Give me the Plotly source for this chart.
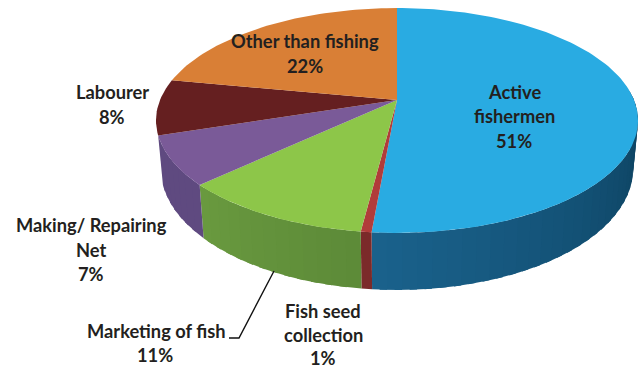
import math
import plotly.graph_objects as go

categories = ["Active fishermen", "Fish seed collection", "Marketing of fish",
              "Making/ Repairing Net", "Labourer", "Other than fishing"]
values = [51.4, 0.6, 11, 7, 8, 22]
top_colors = ["#29abe2", "#b13c3a", "#8dc649", "#7a5a98", "#651f20", "#d97f36"]
# wall colours at the start and end of each slice's visible arc; the last two slices have no visible wall
side_start = ["#0b3d5a", "#7b2a2a", "#5c8a38", "#5f4a80", None, None]
side_end = ["#1a628c", "#7b2a2a", "#6a9a3f", "#5f4a80", None, None]

# Projection of the tilted disc (pixels of the 644x368 canvas)
CX, CY, RX, RY, K, DEPTH, SHRINK = 397, 100, 237, 108.7, 0.182, 46.7, 0.98


def top_pt(deg):
    t = math.radians(deg)
    w = 1 + K * math.cos(t)
    return CX + RX * math.sin(t) / w, CY - RY * math.cos(t) / w


def bottom_pt(deg):
    t = math.radians(deg)
    w = 1 + K * math.cos(t)
    x, y = top_pt(deg)
    return CX + (x - CX) * SHRINK, y + DEPTH / w


def mix(a, b, f):
    ca = [int(a[i:i + 2], 16) for i in (1, 3, 5)]
    cb = [int(b[i:i + 2], 16) for i in (1, 3, 5)]
    return "rgb(%d,%d,%d)" % tuple(round(p + (q - p) * f) for p, q in zip(ca, cb))


def poly(pts, color):
    return go.Scatter(x=[p[0] for p in pts], y=[p[1] for p in pts], mode="lines",
                      fill="toself", fillcolor=color, line=dict(color=color, width=0),
                      hoverinfo="skip", showlegend=False)


fig = go.Figure()
total = sum(values)
edges = [0]
for v in values:
    edges.append(edges[-1] + v / total * 360)

# side wall, in small overlapping steps so each slice carries a soft gradient
for i in range(len(values)):
    if side_start[i] is None:
        continue
    a, b = max(edges[i], 85), edges[i + 1]
    n = max(1, round((b - a) / 3))
    for j in range(n):
        s = a + (b - a) * j / n
        e = min(b, s + (b - a) / n + 1.5)
        steps = [s + (e - s) * q / 3 for q in range(4)]
        pts = [top_pt(d) for d in steps] + [bottom_pt(d) for d in reversed(steps)]
        fig.add_trace(poly(pts, mix(side_start[i], side_end[i], (j + 0.5) / n)))

# top face
for i in range(len(values)):
    a, b = edges[i], edges[i + 1]
    n = max(2, round((b - a) / 1.5))
    pts = [(CX, CY)] + [top_pt(a + (b - a) * q / n) for q in range(n + 1)] + [(CX, CY)]
    fig.add_trace(poly(pts, top_colors[i]))

# leader line for Marketing of fish
fig.add_trace(go.Scatter(x=[274, 239, 229], y=[271, 338, 338], mode="lines",
                         line=dict(color="#111111", width=1.4),
                         hoverinfo="skip", showlegend=False))

label_lines = {
    0: [("Active", 514, 92), ("fishermen", 514, 116)],
    1: [("Fish seed", 323, 311), ("collection", 323, 335)],
    2: [("Marketing of fish", 156, 331)],
    3: [("Making/ Repairing", 91, 225), ("Net", 91, 250)],
    4: [("Labourer", 112, 92)],
    5: [("Other than fishing", 305, 41)],
}
pct_pos = {0: (514, 141), 1: (323, 358), 2: (155, 355), 3: (91, 274), 4: (112, 117), 5: (305, 66)}

annotations = []
for i, v in enumerate(values):
    rows = label_lines[i] + [(f"{round(v)}%",) + pct_pos[i]]
    for text, x, y in rows:
        annotations.append(dict(x=x, y=y, text=f"<b>{text}</b>", showarrow=False,
                                xanchor="center", yanchor="middle",
                                font=dict(family="Lato", size=18.3, color="#231f20")))

fig.update_layout(
    width=644, height=368, margin=dict(l=0, r=0, t=0, b=0),
    paper_bgcolor="white", plot_bgcolor="white", showlegend=False,
    xaxis=dict(range=[0, 644], visible=False, fixedrange=True),
    yaxis=dict(range=[368, 0], visible=False, fixedrange=True),
    annotations=annotations,
)
fig.write_html("out.html", config={"displayModeBar": False},
               post_script="document.body.style.margin='0';")
